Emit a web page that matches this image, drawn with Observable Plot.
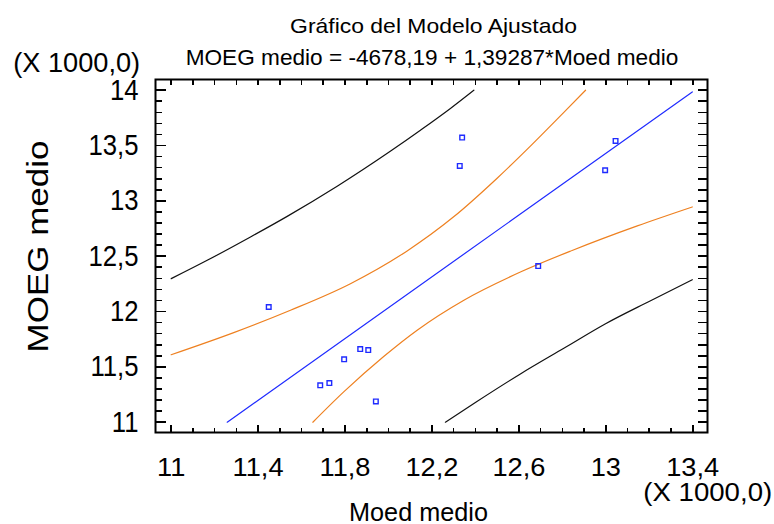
<!DOCTYPE html>
<html><head><meta charset="utf-8">
<script src="https://cdn.jsdelivr.net/npm/d3@7"></script>
<script src="https://cdn.jsdelivr.net/npm/@observablehq/plot@0.6"></script>
<style>
body{margin:0;background:#fff;}
#chart{width:774px;height:524px;}
</style></head><body><div id="chart"></div>
<script>
// ---- data (values in thousands) ----
const moedMedio = [12.339, 12.328, 13.045, 12.997, 11.449, 11.870, 11.907, 11.796, 11.728, 11.686, 11.942, 12.689];
const moegMedio = [13.572, 13.316, 13.542, 13.277, 12.041, 11.661, 11.652, 11.568, 11.354, 11.333, 11.188, 12.411];

const fitX = [11.258, 13.398];
const fitY = [11.000, 13.985];

const confUpX = [11.000, 11.288, 11.549, 11.825, 12.086, 12.300, 12.500, 12.653, 12.807, 12.907];
const confUpY = [11.610, 11.810, 12.012, 12.252, 12.548, 12.856, 13.205, 13.495, 13.800, 14.000];
const confLoX = [11.652, 11.794, 11.978, 12.132, 12.347, 12.607, 12.845, 13.145, 13.398];
const confLoY = [11.000, 11.274, 11.594, 11.832, 12.103, 12.357, 12.552, 12.774, 12.945];

const predUpX = [11.000, 11.166, 11.365, 11.534, 11.764, 12.010, 12.147, 12.285, 12.393];
const predUpY = [12.297, 12.463, 12.674, 12.860, 13.132, 13.450, 13.638, 13.835, 14.000];
const predLoX = [12.262, 12.400, 12.607, 12.807, 12.999, 13.206, 13.398];
const predLoY = [11.000, 11.178, 11.436, 11.668, 11.890, 12.098, 12.288];

const xTickValues = [11, 11.4, 11.8, 12.2, 12.6, 13, 13.4];
const xTickLabels = ["11", "11,4", "11,8", "12,2", "12,6", "13", "13,4"];
const xMinorTicks = [11.1, 11.2, 11.3, 11.5, 11.6, 11.7, 11.9, 12.0, 12.1, 12.3, 12.4, 12.5, 12.7, 12.8, 12.9, 13.1, 13.2, 13.3];
const yTickValues = [11, 11.5, 12, 12.5, 13, 13.5, 14];
const yTickLabels = ["11", "11,5", "12", "12,5", "13", "13,5", "14"];
const yMinorTicks = [11.1, 11.2, 11.3, 11.4, 11.6, 11.7, 11.8, 11.9, 12.1, 12.2, 12.3, 12.4, 12.6, 12.7, 12.8, 12.9, 13.1, 13.2, 13.3, 13.4, 13.6, 13.7, 13.8, 13.9];

const titleText = "Gráfico del Modelo Ajustado";
const subtitleText = "MOEG medio = -4678,19 + 1,39287*Moed medio";
const xLabel = "Moed medio";
const yLabel = "MOEG medio";
const scaleNote = "(X 1000,0)";

const toPts = (xs, ys) => xs.map((x, i) => ({x, y: ys[i]}));
const xAll = xTickValues.concat(xMinorTicks);
const yAll = yTickValues.concat(yMinorTicks);

const W = 774, H = 524, mL = 155, mR = 67, mT = 79, mB = 92;
const fw = W - mL - mR, fh = H - mT - mB;   // frame size in px
const xDom = [10.928, 13.468], yDom = [10.907, 14.097];

const font = "'Liberation Sans', Arial, Helvetica, sans-serif";
const blue = "#1f2bff", orange = "#ee8020", black = "#111";
const tk = {stroke: "black", strokeWidth: 1.6, shapeRendering: "crispEdges"};

const chart = Plot.plot({
  width: W, height: H,
  marginLeft: mL, marginRight: mR, marginTop: mT, marginBottom: mB,
  x: {domain: xDom},
  y: {domain: yDom},
  style: {fontFamily: font, background: "#fff", color: "#000"},
  marks: [
    // curves
    Plot.line(toPts(predUpX, predUpY), {x: "x", y: "y", stroke: black, strokeWidth: 1.2, curve: "monotone-x"}),
    Plot.line(toPts(predLoX, predLoY), {x: "x", y: "y", stroke: black, strokeWidth: 1.2, curve: "monotone-x"}),
    Plot.line(toPts(confUpX, confUpY), {x: "x", y: "y", stroke: orange, strokeWidth: 1.2, curve: "monotone-x"}),
    Plot.line(toPts(confLoX, confLoY), {x: "x", y: "y", stroke: orange, strokeWidth: 1.2, curve: "monotone-x"}),
    Plot.line(toPts(fitX, fitY), {x: "x", y: "y", stroke: blue, strokeWidth: 1.2}),
    Plot.dot(toPts(moedMedio, moegMedio), {x: "x", y: "y", symbol: "square", r: 2.6, stroke: blue, fill: "none", strokeWidth: 1.4}),
    Plot.frame({stroke: "#000", strokeWidth: 2}),
    // inward ticks on all four sides
    Plot.tickX(xTickValues, {x: d => d, insetTop: fh - 7.5, ...tk}),
    Plot.tickX(xMinorTicks, {x: d => d, insetTop: fh - 4, ...tk}),
    Plot.tickX(xAll, {x: d => d, insetBottom: fh - 6, ...tk}),
    Plot.tickY(yTickValues, {y: d => d, insetRight: fw - 11, ...tk}),
    Plot.tickY(yMinorTicks, {y: d => d, insetRight: fw - 7, ...tk}),
    Plot.tickY(yAll, {y: d => d, insetLeft: fw - 9.5, ...tk}),
    // tick labels
    Plot.axisX(xTickValues, {anchor: "bottom", tickSize: 0, tickPadding: 26, fontSize: 25, label: null,
      tickFormat: d => xTickLabels[xTickValues.indexOf(d)]}),
    Plot.axisY(yTickValues, {anchor: "left", tickSize: 0, tickPadding: 17, fontSize: 30, label: null,
      tickFormat: d => yTickLabels[yTickValues.indexOf(d)]}),
    // texts
    Plot.text([titleText], {frameAnchor: "top", textAnchor: "middle", dx: 2, dy: -47, lineAnchor: "bottom", fontSize: 21}),
    Plot.text([subtitleText], {frameAnchor: "top", textAnchor: "middle", dx: 0.5, dy: -15, lineAnchor: "bottom", fontSize: 22}),
    Plot.text([scaleNote], {frameAnchor: "top-left", dx: -142.3, dy: -7.8, textAnchor: "start", lineAnchor: "bottom", fontSize: 27.5}),
    Plot.text([scaleNote], {frameAnchor: "bottom-right", dx: 64.7, dy: 68.5, textAnchor: "end", lineAnchor: "bottom", fontSize: 25.5}),
    Plot.text([xLabel], {frameAnchor: "bottom", textAnchor: "middle", dx: -13, dy: 88, lineAnchor: "bottom", fontSize: 25}),
    Plot.text([yLabel], {frameAnchor: "left", textAnchor: "middle", dx: -108, dy: -9.5, rotate: -90, lineAnchor: "bottom", fontSize: 30})
  ]
});
document.getElementById("chart").appendChild(chart);

// horizontal stretch of texts (about their anchor point) to mimic the reference's letter proportions
function stretchEl(t, width) {
  const L = t.getComputedTextLength();
  if (!(L > 0)) return;
  const sx = width(L) / L;
  const tr = t.getAttribute("transform") || "";
  t.setAttribute("transform", `${tr} scale(${sx.toFixed(4)},1)`);
}
const xLab = [...chart.querySelectorAll('g[aria-label="x-axis tick label"] text')];
const yLab = [...chart.querySelectorAll('g[aria-label="y-axis tick label"] text')];
const ref8 = xLab.find(t => t.textContent === "11,8");
const ref5 = yLab.find(t => t.textContent === "13,5");
const fx = ref8 ? 51 / ref8.getComputedTextLength() : 1;
const fy = ref5 ? 50 / ref5.getComputedTextLength() : 1;
xLab.forEach(t => stretchEl(t, L => L * fx));
yLab.forEach(t => stretchEl(t, L => L * fy));

const texts = [...chart.querySelectorAll('g[aria-label="text"] text')];
const byText = s => texts.filter(t => t.textContent === s);
byText(titleText).forEach(t => stretchEl(t, () => 287));
byText(subtitleText).forEach(t => stretchEl(t, () => 493));
const notes = byText(scaleNote);
if (notes[0]) stretchEl(notes[0], () => 127);
if (notes[1]) stretchEl(notes[1], () => 129);
byText(xLabel).forEach(t => stretchEl(t, () => 139));
byText(yLabel).forEach(t => stretchEl(t, () => 212));
</script></body></html>
